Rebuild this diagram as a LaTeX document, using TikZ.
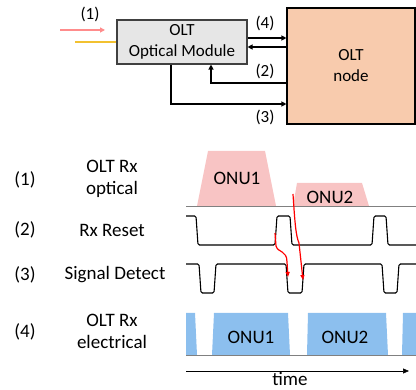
\documentclass[tikz,border=0pt]{standalone}
\usepackage{fontspec}
\setmainfont{Carlito}
\usetikzlibrary{positioning,arrows.meta,calc}

\definecolor{modgray}{HTML}{E6E6E6}
\definecolor{nodepeach}{HTML}{F8CBAD}
\definecolor{optpink}{HTML}{F8C4C4}
\definecolor{elecblue}{HTML}{8CBFEE}
\definecolor{arrpink}{HTML}{FF8C8C}
\definecolor{fibreyellow}{HTML}{F2C130}

\tikzset{
  sig/.style={line width=1.1pt,-{Triangle[length=5pt,width=5pt]}},
  wave/.style={line width=1.1pt,rounded corners=1.5pt},
  lbl/.style={font=\fontsize{19}{22}\selectfont,align=center},
  toplbl/.style={font=\fontsize{17}{21}\selectfont,align=center},
  causal/.style={red,line width=1.2pt,-{Triangle[length=5pt,width=4pt]}},
}

\begin{document}
\begin{tikzpicture}[x=1pt,y=-1pt]
  \useasboundingbox (0,0) rectangle (416,390);
  % block diagram
  \node[toplbl,draw=black!75,fill=modgray,line width=1.1pt,minimum width=130pt,minimum height=44pt,inner sep=0pt] (module) at (182,42) {OLT\\Optical Module};
  \node[toplbl,draw=black,fill=nodepeach,line width=1.1pt,minimum width=128pt,minimum height=116pt,inner sep=0pt] (oltnode) at (351,66) {OLT\\node};
  \coordinate (pinkA) at (60,30);
  \coordinate (pinkB) at (105,30);
  \draw[arrpink,line width=1.2pt,-{Triangle[length=5pt,width=5pt]}] (pinkA) -- (pinkB);
  \coordinate (fibre) at (75,42);
  \draw[fibreyellow,line width=1.5pt] (fibre) -- (module.west);
  \draw[sig] (module.east |- 0,38) -- (oltnode.west |- 0,38);
  \draw[sig] (oltnode.west |- 0,47) -- (module.east |- 0,47);
  \draw[sig] (oltnode.west |- 0,83) -| (module.south -| 211,0);
  \draw[sig] (module.south -| 171,0) |- (oltnode.west |- 0,104);
  \node[toplbl] (in1) at (90,14) {(1)};
  \node[toplbl] (out4) at (265,23) {(4)};
  \node[toplbl] (out2) at (265,71) {(2)};
  \node[toplbl] (out3) at (265,117) {(3)};

  % row labels
  \node[lbl] (num1) at (25,180) {(1)};
  \node[lbl] (num2) at (25,230) {(2)};
  \node[lbl] (num3) at (25,275) {(3)};
  \node[lbl] (num4) at (25,332) {(4)};
  \node[lbl] (rxopt) at (112,179) {OLT Rx\\optical};
  \node[lbl] (rxreset) at (112,230) {Rx Reset};
  \node[lbl] (sigdet) at (115,275) {Signal Detect};
  \node[lbl] (rxelec) at (112,331) {OLT Rx\\electrical};

  % (1) optical bursts
  \fill[optpink] (197,206) -- (208,151) -- (265,151) -- (276,206) -- cycle;
  \fill[optpink] (293,206) -- (297,183) -- (362,183) -- (369,206) -- cycle;
  \draw[gray,line width=0.8pt] (186,206) -- (416,206);
  \node[lbl] (optonu1) at (237,178) {ONU1};
  \node[lbl] (optonu2) at (330,197) {ONU2};

  % (2) reset, (3) signal detect
  \draw[wave] (186,216) -- (196,216) -- (198,245) -- (275,245) -- (277,216) -- (290,216) -- (292,245) -- (372,245) -- (374,216) -- (386,216) -- (388,245) -- (416,245);
  \draw[wave] (186,264) -- (199,264) -- (201,293) -- (214,293) -- (216,264) -- (286,264) -- (288,293) -- (302,293) -- (304,264) -- (382,264) -- (384,293) -- (397,293) -- (399,264) -- (416,264);
  \draw[causal] (275,233) -- (276,246) .. controls (278,253) and (287,250) .. (287,262) -- (288,277);
  \draw[causal] (293,194) .. controls (295,225) and (296,236) .. (299,243) -- (303,280);

  % (4) electrical bursts
  \fill[elecblue] (186,313) -- (195,313) -- (197,355) -- (186,355) -- cycle;
  \fill[elecblue] (212,355) -- (214,313) -- (288,313) -- (290,355) -- cycle;
  \fill[elecblue] (307,355) -- (308,313) -- (386,313) -- (388,355) -- cycle;
  \fill[elecblue] (402,355) -- (403,313) -- (416,313) -- (416,355) -- cycle;
  \draw[gray,line width=0.8pt] (186,355) -- (416,355);
  \node[lbl] (elonu1) at (251,337) {ONU1};
  \node[lbl] (elonu2) at (345,337) {ONU2};

  % time axis
  \coordinate (t0) at (186,371);
  \coordinate (t1) at (409,371);
  \draw[line width=0.6pt,-{Triangle[length=6pt,width=5pt]}] (t0) -- (t1);
  \node[lbl,anchor=base,inner sep=0pt] (timelbl) at (290,386) {time};
\end{tikzpicture}
\end{document}
